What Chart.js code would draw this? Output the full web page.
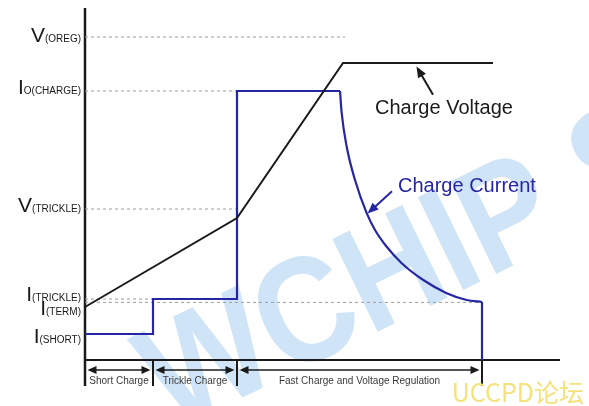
<!DOCTYPE html>
<html>
<head>
<meta charset="utf-8">
<script src="https://cdn.jsdelivr.net/npm/chart.js@4.4.0/dist/chart.umd.min.js"></script>
<style>
  html, body { margin: 0; padding: 0; background: #fff; }
  canvas { display: block; }
</style>
</head>
<body>
<canvas id="chargeChart" width="589" height="406"></canvas>
<script>
// Li-ion charge profile sketch
// x = time (arbitrary units), y = level (arbitrary units)

// phases along the time axis
const phaseNames = ['Short Charge', 'Trickle Charge', 'Fast Charge and Voltage Regulation'];
const phaseEdges = [0, 13.6, 30.4, 79.4];

// reference levels: label (main letter + subscript), value, end of dashed guide
const levelMain = ['V', 'I', 'V', 'I', 'I', 'I'];
const levelSub = ['(OREG)', 'O(CHARGE)', '(TRICKLE)', '(TRICKLE)', '(TERM)', '(SHORT)'];
const levelValues = [80.75, 67.25, 37.75, 15.25, 14.4, 6.5];
const levelGuideEnd = [52, 30.4, 30.4, 13.6, 79.4, null]; // null = no guide

// charge voltage
const voltageX = [0, 30.4, 51.6, 81.6];
const voltageY = [13.25, 35.5, 74.25, 74.25];

// charge current: steps, taper, cut-off
const currentStepX = [0, 13.6, 13.6, 30.4, 30.4, 51.0];
const currentStepY = [6.5, 6.5, 15.25, 15.25, 67.25, 67.25];
const currentTaperX = [51.0, 51.34, 52.34, 54.0, 56.34, 58.0, 60.34, 63.34, 67.66, 72.34, 76.34, 79.4];
const currentTaperY = [67.25, 61.7, 53.3, 45.0, 36.7, 32.5, 28.3, 24.2, 20.0, 16.7, 15.0, 14.5];
const currentCutX = [79.4, 79.4];
const currentCutY = [14.5, 0];

const X_MAX = 95;
const Y_MIN = -6.5;
const Y_MAX = 88;

const FONT = "'Liberation Sans', Arial, sans-serif";
const BLUE = '#2626a4';
const INK = '#1a1a1a';

function pts(xs, ys) {
    return xs.map((x, i) => ({ x: x, y: ys[i] }));
}

function lineSet(data, color, width, extra) {
    return Object.assign({
        data: data,
        borderColor: color,
        borderWidth: width,
        pointRadius: 0,
        tension: 0,
        fill: false,
        clip: false
    }, extra || {});
}

const datasets = [];

// main traces
datasets.push(lineSet(pts(voltageX, voltageY), INK, 2));
datasets.push(lineSet(pts(currentStepX, currentStepY), BLUE, 2.2));
datasets.push(lineSet(pts(currentTaperX, currentTaperY), BLUE, 2.2, { cubicInterpolationMode: 'monotone' }));
datasets.push(lineSet(pts(currentCutX, currentCutY), BLUE, 2.2));

// dashed guides
levelValues.forEach((v, i) => {
    if (levelGuideEnd[i] === null) return;
    datasets.push(lineSet(pts([0, levelGuideEnd[i]], [v, v]), '#9c9c9c', 1, { borderDash: [3, 3] }));
});

// axes
datasets.push(lineSet(pts([0, 0], [Y_MIN, Y_MAX]), INK, 2.5));
datasets.push(lineSet(pts([0, X_MAX], [0, 0]), INK, 2));

// phase boundary ticks below the axis
phaseEdges.slice(1).forEach(e => {
    datasets.push(lineSet(pts([e, e], [0, Y_MIN]), INK, 2));
});

// annotation placement (in data units)
const notes = {
    voltage: { text: 'Charge Voltage', color: INK, at: [58, 61.5], from: [69.6, 66.3], to: [66.3, 73.4] },
    current: { text: 'Charge Current', color: BLUE, at: [62.6, 42], from: [61.4, 42.2], to: [56.5, 36.6] }
};
const labelDy = [5, 3, 3, 1.5, 12.5, 9]; // baseline offset of level labels, px

function arrowHead(ctx, fx, fy, tx, ty, len, half) {
    const a = Math.atan2(ty - fy, tx - fx);
    const c = Math.cos(a), s = Math.sin(a);
    ctx.beginPath();
    ctx.moveTo(tx, ty);
    ctx.lineTo(tx - len * c + half * s, ty - len * s - half * c);
    ctx.lineTo(tx - len * c - half * s, ty - len * s + half * c);
    ctx.closePath();
    ctx.fill();
}

function arrow(ctx, fx, fy, tx, ty, color, width, len, half) {
    const a = Math.atan2(ty - fy, tx - fx);
    ctx.strokeStyle = color;
    ctx.fillStyle = color;
    ctx.lineWidth = width;
    ctx.beginPath();
    ctx.moveTo(fx, fy);
    ctx.lineTo(tx - len * 0.8 * Math.cos(a), ty - len * 0.8 * Math.sin(a));
    ctx.stroke();
    arrowHead(ctx, fx, fy, tx, ty, len, half);
}

const sketchPlugin = {
    id: 'sketch',
    beforeDatasetsDraw(chart) {
        // faint background watermark
        const { ctx, chartArea } = chart;
        ctx.save();
        ctx.translate(chartArea.left + 87, chartArea.bottom + 46);
        ctx.rotate(-26 * Math.PI / 180);
        ctx.scale(0.88, 1);
        ctx.fillStyle = '#d0e4f7';
        ctx.font = 'bold 150px ' + FONT;
        ctx.textBaseline = 'alphabetic';
        ctx.fillText('WCHIP S', 0, 0);
        ctx.restore();
    },
    afterDatasetsDraw(chart) {
        const { ctx } = chart;
        const xs = chart.scales.x, ys = chart.scales.y;
        const px = v => xs.getPixelForValue(v);
        const py = v => ys.getPixelForValue(v);
        ctx.save();

        // level labels on the left
        const right = px(0) - 4;
        levelValues.forEach((v, i) => {
            const base = py(v) + labelDy[i];
            ctx.fillStyle = INK;
            ctx.textBaseline = 'alphabetic';
            ctx.textAlign = 'right';
            ctx.font = '10px ' + FONT;
            ctx.fillText(levelSub[i], right, base);
            const w = ctx.measureText(levelSub[i]).width;
            ctx.font = '21px ' + FONT;
            ctx.fillText(levelMain[i], right - w, base);
        });

        // phase arrows and names
        const ay = py(-2.5);
        phaseNames.forEach((name, i) => {
            const a = px(phaseEdges[i]) + 2.5;
            const b = px(phaseEdges[i + 1]) - 2.5;
            ctx.strokeStyle = INK;
            ctx.fillStyle = INK;
            ctx.lineWidth = 1.6;
            ctx.beginPath();
            ctx.moveTo(a + 6, ay);
            ctx.lineTo(b - 6, ay);
            ctx.stroke();
            arrowHead(ctx, b, ay, a, ay, 9, 4);
            arrowHead(ctx, a, ay, b, ay, 9, 4);
            ctx.fillStyle = '#3a3a3a';
            ctx.font = '10px ' + FONT;
            ctx.textAlign = 'center';
            ctx.textBaseline = 'middle';
            ctx.fillText(name, (a + b) / 2, py(-5.25));
        });

        // trace callouts
        Object.values(notes).forEach(n => {
            ctx.fillStyle = n.color;
            ctx.font = '20px ' + FONT;
            ctx.textAlign = 'left';
            ctx.textBaseline = 'alphabetic';
            ctx.fillText(n.text, px(n.at[0]), py(n.at[1]));
            arrow(ctx, px(n.from[0]), py(n.from[1]), px(n.to[0]), py(n.to[1]), n.color, 2, 11, 4.5);
        });

        // forum mark, bottom right
        ctx.fillStyle = '#f4e27a';
        ctx.font = "25px 'Noto Sans CJK SC', " + FONT;
        ctx.textAlign = 'right';
        ctx.textBaseline = 'alphabetic';
        ctx.fillText('UCCPD论坛', chart.width - 5, chart.height - 4);

        ctx.restore();
    }
};

const ctx = document.getElementById('chargeChart').getContext('2d');

const chargeChart = new Chart(ctx, {
    type: 'line',
    data: { datasets: datasets },
    options: {
        responsive: false,
        animation: false,
        events: [],
        layout: { padding: { left: 85, right: 29, top: 8, bottom: 20 } },
        scales: {
            x: { type: 'linear', min: 0, max: X_MAX, display: false },
            y: { type: 'linear', min: Y_MIN, max: Y_MAX, display: false }
        },
        plugins: {
            legend: { display: false },
            tooltip: { enabled: false }
        }
    },
    plugins: [sketchPlugin]
});
</script>
</body>
</html>
